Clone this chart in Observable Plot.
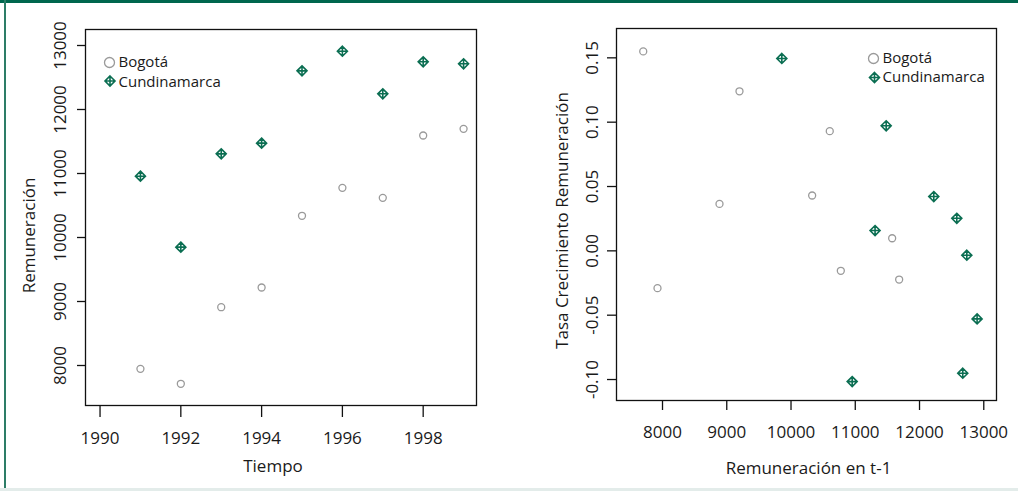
<!DOCTYPE html>
<html>
<head>
<meta charset="utf-8">
<script src="https://cdn.jsdelivr.net/npm/d3@7"></script>
<script src="https://cdn.jsdelivr.net/npm/@observablehq/plot@0.6"></script>
<style>
  html, body { margin: 0; padding: 0; background: #fff; }
  #wrap { position: relative; width: 1018px; height: 491px; overflow: hidden; background: #fff; }
  #left { position: absolute; left: 0; top: 0; }
  #right { position: absolute; left: 509px; top: 0; }
  .bar-top { position: absolute; left: 0; top: 0; width: 1018px; height: 3px; background: #00674e; }
  .bar-left { position: absolute; left: 4px; top: 0; width: 2px; height: 491px; background: #2d7d67; }
  .bar-bottom { position: absolute; left: 0; top: 488px; width: 1018px; height: 3px; background: #e3ecea; }
</style>
</head>
<body>
<div id="wrap">
  <div id="left"></div>
  <div id="right"></div>
  <div class="bar-top"></div>
  <div class="bar-left"></div>
  <div class="bar-bottom"></div>
</div>
<script>
// ---- Data: left panel (Remuneración vs Tiempo)
const years = [1991, 1992, 1993, 1994, 1995, 1996, 1997, 1998, 1999];
const bogota = [7948, 7714, 8911, 9219, 10339, 10776, 10620, 11594, 11698];
const cundinamarca = [10958, 9849, 11307, 11474, 12604, 12911, 12245, 12745, 12714];

// ---- Data: right panel (Tasa crecimiento vs Remuneración en t-1)
const bogotaPrev = [7700, 7922, 8887, 9198, 10329, 10603, 10775, 11574, 11683];
const bogotaGrowth = [0.155, -0.029, 0.0365, 0.124, 0.043, 0.093, -0.0155, 0.0098, -0.0223];
const cundPrev = [9857, 11481, 12222, 11308, 12580, 12736, 12896, 12673, 10952];
const cundGrowth = [0.1495, 0.0972, 0.0422, 0.0158, 0.0253, -0.0034, -0.0529, -0.0951, -0.1016];

// ---- Tick labels
const leftXTicks = [1990, 1992, 1994, 1996, 1998];
const leftYTicks = [8000, 9000, 10000, 11000, 12000, 13000];
const rightXTicks = [8000, 9000, 10000, 11000, 12000, 13000];
const rightYTicks = [-0.10, -0.05, 0.00, 0.05, 0.10, 0.15];

const seriesNames = ["Bogotá", "Cundinamarca"];

const GREEN = "#0b6e52";
const GREY = "#9a9a9a";
const INK = "#1a1a1a";
const FONT = "'Open Sans', 'Noto Sans', sans-serif";

const leftData = years.map((y, i) => ({t: y, b: bogota[i], c: cundinamarca[i]}));
const rightB = bogotaPrev.map((x, i) => ({x, y: bogotaGrowth[i]}));
const rightC = cundPrev.map((x, i) => ({x, y: cundGrowth[i]}));

// Diamond with plus inside (like R pch = 9)
const diamondPlus = {
  draw(context, size) {
    const r = Math.sqrt(size / Math.PI);
    context.moveTo(0, -r);
    context.lineTo(r, 0);
    context.lineTo(0, r);
    context.lineTo(-r, 0);
    context.closePath();
    context.moveTo(0, -r);
    context.lineTo(0, r);
    context.moveTo(-r, 0);
    context.lineTo(r, 0);
  }
};

function legend(dxC, dyC, dxD, dyD, dxT, dyT1, dyT2) {
  return [
    Plot.dot([0], {frameAnchor: "top-left", dx: dxC, dy: dyC, r: 5, stroke: GREY, strokeWidth: 1.3, fill: "none"}),
    Plot.dot([0], {frameAnchor: "top-left", dx: dxD, dy: dyD, r: 5, symbol: diamondPlus, stroke: GREEN, strokeWidth: 1.6, fill: "none"}),
    Plot.text([seriesNames[0]], {frameAnchor: "top-left", dx: dxT, dy: dyT1, text: d => d, textAnchor: "start", lineAnchor: "middle", fontSize: 15, fill: INK}),
    Plot.text([seriesNames[1]], {frameAnchor: "top-left", dx: dxT, dy: dyT2, text: d => d, textAnchor: "start", lineAnchor: "middle", fontSize: 15, fill: INK})
  ];
}

// ---------- Left panel
const left = Plot.plot({
  width: 509,
  height: 491,
  marginLeft: 85,
  marginRight: 33,
  marginTop: 29,
  marginBottom: 86,
  style: {fontFamily: FONT, fontSize: "17px", color: INK, background: "transparent"},
  x: {domain: [1989.64, 1999.32]},
  y: {domain: [7375, 13250]},
  marks: [
    Plot.frame({stroke: "#111", strokeWidth: 1.3}),
    Plot.axisX({ticks: leftXTicks, tickSize: 12, tickPadding: 14, tickFormat: d => String(d), label: null, fontSize: 17, stroke: "#111", strokeWidth: 1.3, fill: INK}),
    Plot.axisY({ticks: leftYTicks, tickSize: 8, tickFormat: () => "", label: null, stroke: "#111", strokeWidth: 1.3}),
    Plot.text(leftYTicks, {y: d => d, text: d => String(d), frameAnchor: "left", dx: -25, rotate: -90, textAnchor: "middle", lineAnchor: "middle", fontSize: 17, fill: INK}),
    Plot.text(["Tiempo"], {frameAnchor: "bottom", dx: -8, dy: 61, text: d => d, lineAnchor: "middle", fontSize: 17, fill: INK}),
    Plot.text(["Remuneración"], {frameAnchor: "left", dx: -56, dy: 18, rotate: -90, text: d => d, textAnchor: "middle", lineAnchor: "middle", fontSize: 17, fill: INK}),
    Plot.dot(leftData, {x: "t", y: "b", r: 3.5, stroke: GREY, strokeWidth: 1.3, fill: "none"}),
    Plot.dot(leftData, {x: "t", y: "c", r: 5, symbol: diamondPlus, stroke: GREEN, strokeWidth: 1.6, fill: "none"}),
    ...legend(24, 33, 24.5, 51.5, 33, 32.5, 52.5)
  ]
});
document.getElementById("left").appendChild(left);

// ---------- Right panel
const right = Plot.plot({
  width: 509,
  height: 491,
  marginLeft: 107,
  marginRight: 22,
  marginTop: 28,
  marginBottom: 91,
  style: {fontFamily: FONT, fontSize: "17px", color: INK, background: "transparent"},
  x: {domain: [7284, 13198]},
  y: {domain: [-0.1163, 0.1728]},
  marks: [
    Plot.frame({stroke: "#111", strokeWidth: 1.3}),
    Plot.axisX({ticks: rightXTicks, tickSize: 10, tickPadding: 15, tickFormat: d => String(d), label: null, fontSize: 17, stroke: "#111", strokeWidth: 1.3, fill: INK}),
    Plot.axisY({ticks: rightYTicks, tickSize: 9, tickFormat: () => "", label: null, stroke: "#111", strokeWidth: 1.3}),
    Plot.text(rightYTicks, {y: d => d, text: d => d.toFixed(2), frameAnchor: "left", dx: -24, rotate: -90, textAnchor: "middle", lineAnchor: "middle", fontSize: 17, fill: INK}),
    Plot.text(["Remuneración en t-1"], {frameAnchor: "bottom", dx: 2, dy: 68, text: d => d, lineAnchor: "middle", fontSize: 17, fill: INK}),
    Plot.text(["Tasa Crecimiento Remuneración"], {frameAnchor: "left", dx: -54, dy: 6, rotate: -90, text: d => d, textAnchor: "middle", lineAnchor: "middle", fontSize: 17, fill: INK}),
    Plot.dot(rightB, {x: "x", y: "y", r: 3.5, stroke: GREY, strokeWidth: 1.3, fill: "none"}),
    Plot.dot(rightC, {x: "x", y: "y", r: 5, symbol: diamondPlus, stroke: GREEN, strokeWidth: 1.6, fill: "none"}),
    ...legend(257, 30, 258, 49, 266, 29.5, 49)
  ]
});
document.getElementById("right").appendChild(right);
</script>
</body>
</html>
